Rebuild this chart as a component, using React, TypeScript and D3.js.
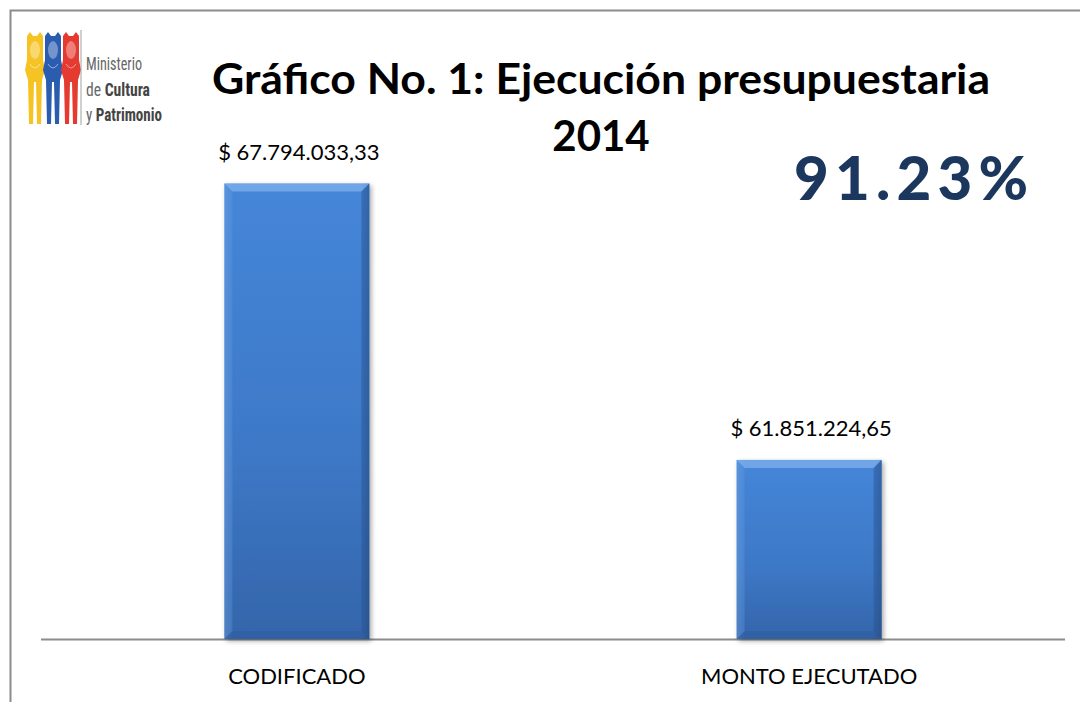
import React from "react";
import * as d3 from "d3";

const width = 1080;
const height = 702;
const margin = { top: 81, right: 15, bottom: 62, left: 41 };

const categories = ["CODIFICADO", "MONTO EJECUTADO"];
const amounts = [67794033.33, 61851224.65];
const amountLabels = ["$ 67.794.033,33", "$ 61.851.224,65"];
const yDomain = [58000000, 70000000];
const titleLines = ["Gráfico No. 1: Ejecución presupuestaria", "2014"];
const percentText = "91.23%";
const logoLines = ["Ministerio", "de Cultura", "y Patrimonio"];
const logoColors = ["#f6c324", "#2a5cb0", "#e53a2f"];

const font = "Lato, 'Open Sans', sans-serif";

const Figure = ({ x, color }: { x: number; color: string }) => {
  // one stylised figure from the ministry logo
  const p = d3.path();
  p.moveTo(x + 2, 36);
  p.lineTo(x + 5, 32);
  p.lineTo(x + 8, 36);
  p.lineTo(x + 12, 36);
  p.lineTo(x + 15, 32);
  p.lineTo(x + 18, 36);
  p.lineTo(x + 18, 60);
  p.lineTo(x + 20, 70);
  p.lineTo(x + 17, 80);
  p.lineTo(x + 16, 124);
  p.lineTo(x + 12, 124);
  p.lineTo(x + 11, 82);
  p.lineTo(x + 9, 82);
  p.lineTo(x + 8, 124);
  p.lineTo(x + 4, 124);
  p.lineTo(x + 3, 80);
  p.lineTo(x, 70);
  p.lineTo(x + 2, 60);
  p.closePath();
  return (
    <g>
      <path d={p.toString()} fill={color} />
      <ellipse cx={x + 10} cy={50} rx={5} ry={9} fill="#fff" opacity={0.35} />
      <path d={`M${x + 5},64 Q${x + 10},72 ${x + 15},64`} stroke="#fff" strokeOpacity={0.5} fill="none" />
    </g>
  );
};

const App = () => {
  const xScale = d3
    .scaleBand<string>()
    .domain(categories)
    .range([margin.left, width - margin.right])
    .paddingInner(0.717)
    .paddingOuter(0.358);

  const yScale = d3
    .scaleLinear()
    .domain(yDomain)
    .range([height - margin.bottom - 1, margin.top]);

  const base = yScale(yDomain[0]);
  const bw = xScale.bandwidth();
  const bevel = 8;
  const logoWidths = [56, 64, 76];

  return (
    <div style={{ position: "absolute", left: 0, top: 0 }}>
      <svg width={width} height={height} style={{ display: "block" }}>
        <defs>
          <linearGradient id="barFill" x1="0" y1="0" x2="0" y2="1">
            <stop offset="0" stopColor="#4586d9" />
            <stop offset="0.6" stopColor="#3d78c6" />
            <stop offset="1" stopColor="#3465aa" />
          </linearGradient>
          <linearGradient id="barSide" x1="0" y1="0" x2="1" y2="0">
            <stop offset="0" stopColor="#ffffff" stopOpacity={0.12} />
            <stop offset="0.06" stopColor="#ffffff" stopOpacity={0} />
            <stop offset="0.94" stopColor="#000000" stopOpacity={0} />
            <stop offset="1" stopColor="#000000" stopOpacity={0.18} />
          </linearGradient>
          <filter id="shadow" x="-10%" y="-5%" width="125%" height="115%">
            <feGaussianBlur in="SourceAlpha" stdDeviation="2.5" />
            <feOffset dx="2" dy="2" />
            <feComponentTransfer>
              <feFuncA type="linear" slope="0.35" />
            </feComponentTransfer>
            <feMerge>
              <feMergeNode />
              <feMergeNode in="SourceGraphic" />
            </feMerge>
          </filter>
        </defs>

        <rect width={width} height={height} fill="#fff" />
        {/* outer frame */}
        <path d={`M10.5,${height} V10.5 H${width}`} stroke="#8c8c8c" strokeWidth={2} fill="none" />

        {/* logo */}
        <g>
          {logoColors.map((c, i) => (
            <Figure key={i} x={25 + i * 18} color={c} />
          ))}
          <line x1={81} y1={30} x2={81} y2={125} stroke="#a0a0a0" strokeWidth={1} />
          {logoLines.map((t, i) => (
            <text
              key={t}
              x={86}
              y={70 + i * 25.5}
              fontFamily="'Liberation Sans Narrow', 'Roboto Condensed', Roboto, sans-serif"
              fontSize={19}
              fill="#666"
              textLength={logoWidths[i]}
              lengthAdjust="spacingAndGlyphs"
            >
              {i === 0 ? t : (
                <>
                  <tspan>{t.split(" ")[0]} </tspan>
                  <tspan fontWeight="bold" fill="#444">{t.split(" ")[1]}</tspan>
                </>
              )}
            </text>
          ))}
        </g>

        {/* title */}
        <text
          x={601}
          y={94}
          textAnchor="middle"
          fontFamily={font}
          fontWeight="bold"
          fontSize={42}
          fill="#000"
          textLength={778}
          lengthAdjust="spacingAndGlyphs"
        >
          {titleLines[0]}
        </text>
        <text x={601} y={151} textAnchor="middle" fontFamily={font} fontWeight="bold" fontSize={42} fill="#000">
          {titleLines[1]}
        </text>

        {/* percentage */}
        <text
          x={794}
          y={200}
          fontFamily={font}
          fontWeight={900}
          fontSize={60}
          fill="#1b375e"
          textLength={234}
          lengthAdjust="spacing"
        >
          {percentText}
        </text>

        {/* axis line */}
        <line x1={margin.left} x2={width - margin.right} y1={base + 0.5} y2={base + 0.5} stroke="#8c8c8c" strokeWidth={2} />

        {/* bars */}
        {categories.map((c, i) => {
          const x0 = xScale(c) as number;
          const y0 = yScale(amounts[i]);
          const x1 = x0 + bw;
          return (
            <g key={c}>
              <g filter="url(#shadow)">
                <rect x={x0} y={y0} width={bw} height={base - y0} fill="url(#barFill)" />
              </g>
              <rect x={x0} y={y0} width={bw} height={base - y0} fill="url(#barSide)" />
              <path
                d={`M${x0},${y0} H${x1} L${x1 - bevel},${y0 + bevel} H${x0 + bevel} Z`}
                fill="#7fb0ec"
                opacity={0.75}
              />
              <path
                d={`M${x1},${y0} V${base} L${x1 - bevel},${base - bevel} V${y0 + bevel} Z`}
                fill="#2a5695"
                opacity={0.45}
              />
              <path
                d={`M${x0},${y0} V${base} L${x0 + bevel},${base - bevel} V${y0 + bevel} Z`}
                fill="#5a94dd"
                opacity={0.35}
              />
              <path
                d={`M${x0},${base} H${x1} L${x1 - bevel},${base - bevel} H${x0 + bevel} Z`}
                fill="#2b5b9e"
                opacity={0.4}
              />
              <text
                x={x0 + bw / 2 + 2}
                y={y0 - 24}
                textAnchor="middle"
                fontFamily={font}
                fontSize={22}
                fill="#000"
              >
                {amountLabels[i]}
              </text>
              <text
                x={x0 + bw / 2}
                y={base + 45}
                textAnchor="middle"
                fontFamily={font}
                fontSize={22}
                fill="#000"
              >
                {c}
              </text>
            </g>
          );
        })}
      </svg>
    </div>
  );
};

export default App;
